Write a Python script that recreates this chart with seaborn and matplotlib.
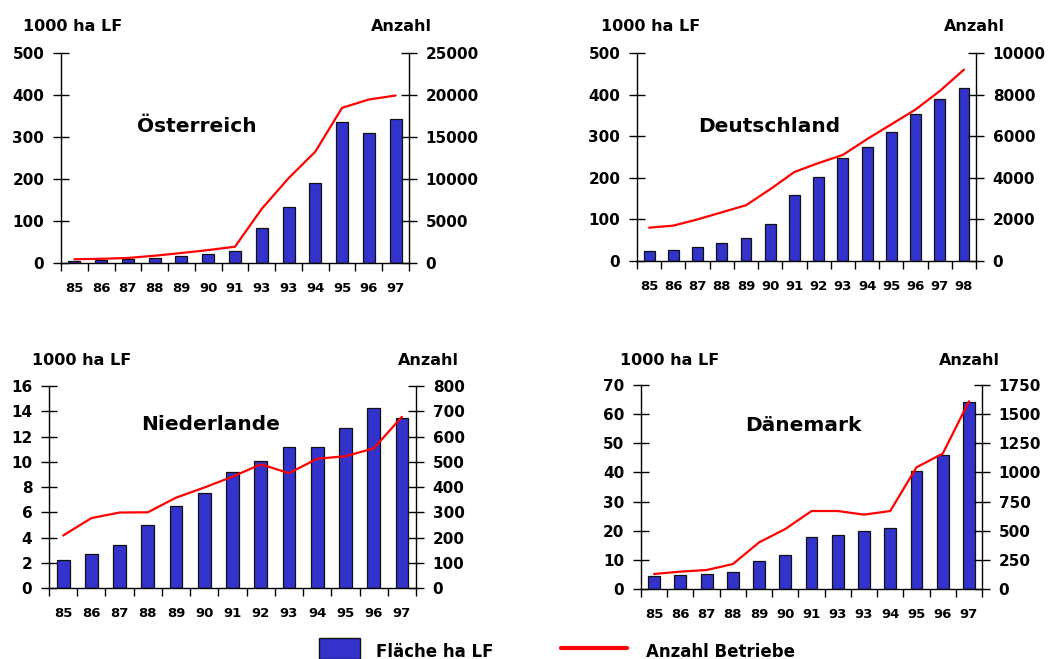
import numpy as np
import pandas as pd
import seaborn as sns
import matplotlib.pyplot as plt
from matplotlib.patches import Rectangle
from matplotlib.lines import Line2D

# --- data ---
jahre_at = ["85", "86", "87", "88", "89", "90", "91", "93", "93", "94", "95", "96", "97"]
flaeche_at = [5, 7, 9, 12, 16, 22, 28, 83, 134, 191, 335, 309, 344]
anzahl_at = [450, 500, 600, 870, 1190, 1540, 1940, 6450, 10090, 13250, 18470, 19460, 19940]

jahre_de = ["85", "86", "87", "88", "89", "90", "91", "92", "93", "94", "95", "96", "97", "98"]
flaeche_de = [25, 27, 33, 42, 55, 90, 158, 202, 247, 273, 309, 354, 389, 415]
anzahl_de = [1600, 1700, 2000, 2340, 2680, 3450, 4280, 4710, 5100, 5860, 6570, 7280, 8170, 9200]

jahre_nl = ["85", "86", "87", "88", "89", "90", "91", "92", "93", "94", "95", "96", "97"]
flaeche_nl = [2.2, 2.7, 3.4, 5.0, 6.5, 7.5, 9.2, 10.1, 11.2, 11.2, 12.7, 14.3, 13.5]
anzahl_nl = [208, 277, 299, 300, 358, 398, 441, 490, 455, 512, 522, 553, 678]

jahre_dk = ["85", "86", "87", "88", "89", "90", "91", "93", "93", "94", "95", "96", "97"]
flaeche_dk = [4.5, 4.8, 5.0, 5.8, 9.6, 11.6, 17.7, 18.5, 19.9, 20.9, 40.6, 45.9, 64.2]
anzahl_dk = [129, 149, 163, 214, 400, 515, 669, 669, 638, 669, 1044, 1161, 1610]

BLAU = "#3333CC"
ROT = "#FF0000"

sns.set_style("ticks")
plt.rcParams["font.family"] = ["DejaVu Sans"]
plt.rcParams["font.weight"] = "bold"
plt.rcParams["text.color"] = "black"
plt.rcParams["xtick.color"] = "black"
plt.rcParams["ytick.color"] = "black"
plt.rcParams["axes.edgecolor"] = "black"

fig = plt.figure(figsize=(10.5, 6.59), dpi=100)

# (title, years, bars, line, left ticks, right ticks, axes rect, title pos, label x-pos)
panels = [
    ("Österreich", jahre_at, flaeche_at, anzahl_at,
     np.arange(0, 501, 100), np.arange(0, 25001, 5000),
     [0.0581, 0.6009, 0.3314, 0.3187], (0.39, 0.65), (-0.109, 0.891, 1.105)),
    ("Deutschland", jahre_de, flaeche_de, anzahl_de,
     np.arange(0, 501, 100), np.arange(0, 10001, 2000),
     [0.6067, 0.6040, 0.3229, 0.3156], (0.39, 0.645), (-0.106, 0.906, 1.106)),
    ("Niederlande", jahre_nl, flaeche_nl, anzahl_nl,
     np.arange(0, 17, 2), np.arange(0, 801, 100),
     [0.0467, 0.1077, 0.3495, 0.3065], (0.44, 0.81), (-0.046, 0.951, 1.104)),
    ("Dänemark", jahre_dk, flaeche_dk, anzahl_dk,
     np.arange(0, 71, 10), np.arange(0, 1751, 250),
     [0.6105, 0.1062, 0.3248, 0.3096], (0.475, 0.80), (-0.062, 0.874, 1.098)),
]

for titel, jahre, flaeche, anzahl, lticks, rticks, rect, tpos, lpos in panels:
    n = len(jahre)
    df = pd.DataFrame({"pos": np.arange(n), "flaeche": flaeche, "anzahl": anzahl})

    ax = fig.add_axes(rect)
    sns.barplot(data=df, x="pos", y="flaeche", ax=ax, color=BLAU, saturation=1,
                width=0.45, edgecolor="#111111", linewidth=0.9)
    ax2 = ax.twinx()
    sns.lineplot(data=df, x="pos", y="anzahl", ax=ax2, color=ROT, linewidth=1.6)

    ax.set_xlim(-0.5, n - 0.5)
    ax.set_ylim(lticks[0], lticks[-1])
    ax2.set_ylim(rticks[0], rticks[-1])
    ax.set_xlabel("")
    ax.set_ylabel("")
    ax2.set_ylabel("")

    ax.set_xticks(np.arange(n))
    ax.set_xticklabels(jahre, fontsize=9.5, fontweight="bold")
    ax.set_xticks(np.arange(-0.5, n), minor=True)
    ax.tick_params(axis="x", which="major", length=0, pad=14)
    ax.tick_params(axis="x", which="minor", length=6, width=1, direction="out")

    ax.set_yticks(lticks)
    ax.set_yticklabels([str(v) for v in lticks], fontsize=11, fontweight="bold")
    ax.tick_params(axis="y", direction="inout", length=12, width=1, pad=6)
    ax2.set_yticks(rticks)
    ax2.set_yticklabels([str(v) for v in rticks], fontsize=11, fontweight="bold")
    ax2.tick_params(axis="y", direction="inout", length=12, width=1, pad=6)

    for a in (ax, ax2):
        a.spines["top"].set_visible(False)
        for s in ("left", "right", "bottom"):
            a.spines[s].set_linewidth(1)
    ax.spines["right"].set_visible(False)
    ax2.spines["left"].set_visible(False)
    ax2.spines["bottom"].set_visible(False)

    ax.text(tpos[0], tpos[1], titel, transform=ax.transAxes, ha="center", va="center",
            fontsize=14.5, fontweight="bold")
    ax.text(lpos[0], lpos[2], "1000 ha LF", transform=ax.transAxes, ha="left",
            va="baseline", fontsize=11.5, fontweight="bold")
    ax.text(lpos[1], lpos[2], "Anzahl", transform=ax.transAxes, ha="left",
            va="baseline", fontsize=11.5, fontweight="bold")

# legend at the bottom, partly cut off like in the original
W, H = 1050, 659
fig.add_artist(Rectangle((319 / W, 0), 41 / W, 21 / H, transform=fig.transFigure,
                         facecolor=BLAU, edgecolor="#111111", linewidth=1))
fig.text(376 / W, 2 / H, "Fläche ha LF", ha="left", va="baseline", fontsize=12, fontweight="bold")
fig.add_artist(Line2D([561 / W, 627 / W], [11 / H, 11 / H], transform=fig.transFigure,
                      color=ROT, linewidth=3))
fig.text(646 / W, 2 / H, "Anzahl Betriebe", ha="left", va="baseline", fontsize=12, fontweight="bold")

fig.savefig("out.png", dpi=100)
